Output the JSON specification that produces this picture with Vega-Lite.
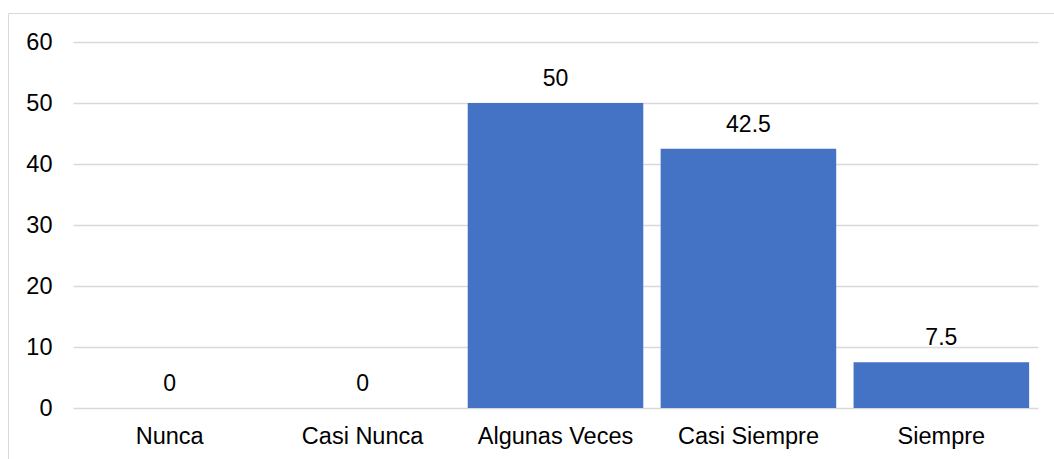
{
  "$schema": "https://vega.github.io/schema/vega-lite/v6.json",
  "width": 1046,
  "height": 446,
  "autosize": {"type": "none"},
  "padding": {"left": 8, "top": 13, "right": 0, "bottom": 0},
  "background": "#ffffff",
  "config": {
    "view": {"stroke": "#d9d9d9", "strokeWidth": 1},
    "font": "Liberation Sans"
  },
  "data": {
    "values": [
      {"respuesta": "Nunca", "porcentaje": 0},
      {"respuesta": "Casi Nunca", "porcentaje": 0},
      {"respuesta": "Algunas Veces", "porcentaje": 50},
      {"respuesta": "Casi Siempre", "porcentaje": 42.5},
      {"respuesta": "Siempre", "porcentaje": 7.5}
    ]
  },
  "encoding": {
    "x": {
      "field": "respuesta",
      "type": "nominal",
      "sort": null,
      "scale": {"range": [65, 1030], "paddingInner": 0.09, "paddingOuter": 0.046},
      "axis": {
        "title": null,
        "domain": false,
        "ticks": false,
        "tickSize": 0,
        "grid": false,
        "labelAngle": 0,
        "labelFont": "Liberation Sans",
        "labelFontSize": 23.5,
        "labelColor": "#000000",
        "labelBaseline": "alphabetic",
        "labelPadding": -16
      }
    },
    "y": {
      "field": "porcentaje",
      "type": "quantitative",
      "scale": {"domain": [0, 60], "range": [395, 29], "nice": false},
      "axis": {
        "title": null,
        "values": [0, 10, 20, 30, 40, 50, 60],
        "domain": false,
        "ticks": false,
        "tickSize": 0,
        "grid": true,
        "gridColor": "#d9d9d9",
        "gridWidth": 1.3,
        "labelFont": "Liberation Sans",
        "labelFontSize": 23.5,
        "labelColor": "#000000",
        "labelAlign": "right",
        "labelBaseline": "middle",
        "labelPadding": -44
      }
    }
  },
  "layer": [
    {
      "mark": {"type": "bar", "color": "#4472c4"}
    },
    {
      "mark": {
        "type": "text",
        "font": "Liberation Sans",
        "fontSize": 23,
        "color": "#000000",
        "baseline": "alphabetic",
        "align": "center",
        "dy": -17
      },
      "encoding": {
        "text": {"field": "porcentaje", "type": "quantitative"}
      }
    }
  ]
}
